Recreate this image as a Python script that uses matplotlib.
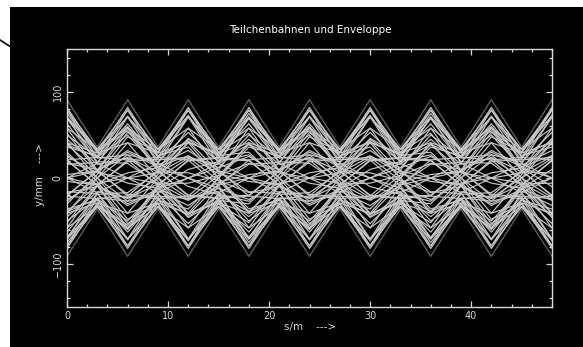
import matplotlib
matplotlib.use('Agg')
import matplotlib.pyplot as plt
from matplotlib.patches import Rectangle
from matplotlib.lines import Line2D
from matplotlib.ticker import MultipleLocator

# --- Data: lens positions along s (m) and particle offsets y (mm) --- #
s_pos = [0, 3, 6, 9, 12, 15, 18, 21, 24, 27, 30, 33, 36, 39, 42, 45, 48]

env_top = [91, 36, 91, 36, 91, 36, 91, 36, 91, 36, 91, 36, 91, 36, 91, 36, 91]
env_bot = [-91, -36, -91, -36, -91, -36, -91, -36, -91, -36, -91, -36, -91, -36, -91, -36, -91]

# --- particles near the edge of the beam --- #
a00 = [82, 29, 41, 0, -41, -29, -82, -29, -41, 0, 41, 29, 82, 29, 41, 0, -41]
a15 = [79, 24, 21, -9, -58, -33, -79, -24, -21, 9, 58, 33, 79, 24, 21, -9, -58]
a30 = [71, 17, 0, -17, -71, -34, -71, -17, 0, 17, 71, 34, 71, 17, 0, -17, -71]
a45 = [58, 9, -21, -24, -79, -33, -58, -9, 21, 24, 79, 33, 58, 9, -21, -24, -79]
a60 = [41, 0, -41, -29, -82, -29, -41, 0, 41, 29, 82, 29, 41, 0, -41, -29, -82]
a75 = [21, -9, -58, -33, -79, -24, -21, 9, 58, 33, 79, 24, 21, -9, -58, -33, -79]
a90 = [0, -17, -71, -34, -71, -17, 0, 17, 71, 34, 71, 17, 0, -17, -71, -34, -71]
a105 = [-21, -24, -79, -33, -58, -9, 21, 24, 79, 33, 58, 9, -21, -24, -79, -33, -58]
a120 = [-41, -29, -82, -29, -41, 0, 41, 29, 82, 29, 41, 0, -41, -29, -82, -29, -41]
a135 = [-58, -33, -79, -24, -21, 9, 58, 33, 79, 24, 21, -9, -58, -33, -79, -24, -21]
a150 = [-71, -34, -71, -17, 0, 17, 71, 34, 71, 17, 0, -17, -71, -34, -71, -17, 0]
a165 = [-79, -33, -58, -9, 21, 24, 79, 33, 58, 9, -21, -24, -79, -33, -58, -9, 21]
a180 = [-82, -29, -41, 0, 41, 29, 82, 29, 41, 0, -41, -29, -82, -29, -41, 0, 41]
a195 = [-79, -24, -21, 9, 58, 33, 79, 24, 21, -9, -58, -33, -79, -24, -21, 9, 58]
a210 = [-71, -17, 0, 17, 71, 34, 71, 17, 0, -17, -71, -34, -71, -17, 0, 17, 71]
a225 = [-58, -9, 21, 24, 79, 33, 58, 9, -21, -24, -79, -33, -58, -9, 21, 24, 79]
a240 = [-41, 0, 41, 29, 82, 29, 41, 0, -41, -29, -82, -29, -41, 0, 41, 29, 82]
a255 = [-21, 9, 58, 33, 79, 24, 21, -9, -58, -33, -79, -24, -21, 9, 58, 33, 79]
a270 = [0, 17, 71, 34, 71, 17, 0, -17, -71, -34, -71, -17, 0, 17, 71, 34, 71]
a285 = [21, 24, 79, 33, 58, 9, -21, -24, -79, -33, -58, -9, 21, 24, 79, 33, 58]
a300 = [41, 29, 82, 29, 41, 0, -41, -29, -82, -29, -41, 0, 41, 29, 82, 29, 41]
a315 = [58, 33, 79, 24, 21, -9, -58, -33, -79, -24, -21, 9, 58, 33, 79, 24, 21]
a330 = [71, 34, 71, 17, 0, -17, -71, -34, -71, -17, 0, 17, 71, 34, 71, 17, 0]
a345 = [79, 33, 58, 9, -21, -24, -79, -33, -58, -9, 21, 24, 79, 33, 58, 9, -21]

# --- particles inside the beam --- #
b00 = [45, 16, 23, 0, -23, -16, -45, -16, -23, 0, 23, 16, 45, 16, 23, 0, -23]
b15 = [63, 19, 17, -7, -46, -26, -63, -19, -17, 7, 46, 26, 63, 19, 17, -7, -46]
b30 = [25, 6, 0, -6, -25, -12, -25, -6, 0, 6, 25, 12, 25, 6, 0, -6, -25]
b45 = [52, 8, -19, -22, -71, -30, -52, -8, 19, 22, 71, 30, 52, 8, -19, -22, -71]
b60 = [27, 0, -27, -19, -53, -19, -27, 0, 27, 19, 53, 19, 27, 0, -27, -19, -53]
b75 = [20, -8, -53, -30, -73, -22, -20, 8, 53, 30, 73, 22, 20, -8, -53, -30, -73]
b90 = [0, -8, -32, -15, -32, -8, 0, 8, 32, 15, 32, 8, 0, -8, -32, -15, -32]
b105 = [-16, -18, -59, -25, -43, -7, 16, 18, 59, 25, 43, 7, -16, -18, -59, -25, -43]
b120 = [-36, -26, -72, -26, -36, 0, 36, 26, 72, 26, 36, 0, -36, -26, -72, -26, -36]
b135 = [-17, -10, -24, -7, -6, 3, 17, 10, 24, 7, 6, -3, -17, -10, -24, -7, -6]
b150 = [-50, -24, -50, -12, 0, 12, 50, 24, 50, 12, 0, -12, -50, -24, -50, -12, 0]
b165 = [-75, -31, -55, -8, 20, 23, 75, 31, 55, 8, -20, -23, -75, -31, -55, -8, 20]
b180 = [-45, -16, -23, 0, 23, 16, 45, 16, 23, 0, -23, -16, -45, -16, -23, 0, 23]
b195 = [-63, -19, -17, 7, 46, 26, 63, 19, 17, -7, -46, -26, -63, -19, -17, 7, 46]
b210 = [-25, -6, 0, 6, 25, 12, 25, 6, 0, -6, -25, -12, -25, -6, 0, 6, 25]
b225 = [-52, -8, 19, 22, 71, 30, 52, 8, -19, -22, -71, -30, -52, -8, 19, 22, 71]
b240 = [-27, 0, 27, 19, 53, 19, 27, 0, -27, -19, -53, -19, -27, 0, 27, 19, 53]
b255 = [-20, 8, 53, 30, 73, 22, 20, -8, -53, -30, -73, -22, -20, 8, 53, 30, 73]
b270 = [0, 8, 32, 15, 32, 8, 0, -8, -32, -15, -32, -8, 0, 8, 32, 15, 32]
b285 = [16, 18, 59, 25, 43, 7, -16, -18, -59, -25, -43, -7, 16, 18, 59, 25, 43]
b300 = [36, 26, 72, 26, 36, 0, -36, -26, -72, -26, -36, 0, 36, 26, 72, 26, 36]
b315 = [17, 10, 24, 7, 6, -3, -17, -10, -24, -7, -6, 3, 17, 10, 24, 7, 6]
b330 = [50, 24, 50, 12, 0, -12, -50, -24, -50, -12, 0, 12, 50, 24, 50, 12, 0]
b345 = [75, 31, 55, 8, -20, -23, -75, -31, -55, -8, 20, 23, 75, 31, 55, 8, -20]

# --- a few more in between --- #
c08 = [69, 23, 27, -4, -42, -27, -69, -23, -27, 4, 42, 27, 69, 23, 27, -4, -42]
c38 = [39, 8, -6, -12, -45, -20, -39, -8, 6, 12, 45, 20, 39, 8, -6, -12, -45]
c68 = [30, -4, -48, -30, -79, -26, -30, 4, 48, 30, 79, 26, 30, -4, -48, -30, -79]
c98 = [-4, -8, -30, -13, -26, -5, 4, 8, 30, 13, 26, 5, -4, -8, -30, -13, -26]
c128 = [-39, -24, -63, -21, -24, 3, 39, 24, 63, 21, 24, -3, -39, -24, -63, -21, -24]
c158 = [-70, -31, -60, -12, 10, 19, 70, 31, 60, 12, -10, -19, -70, -31, -60, -12, 10]
c188 = [-69, -23, -27, 4, 42, 27, 69, 23, 27, -4, -42, -27, -69, -23, -27, 4, 42]
c218 = [-39, -8, 6, 12, 45, 20, 39, 8, -6, -12, -45, -20, -39, -8, 6, 12, 45]
c248 = [-30, 4, 48, 30, 79, 26, 30, -4, -48, -30, -79, -26, -30, 4, 48, 30, 79]
c278 = [4, 8, 30, 13, 26, 5, -4, -8, -30, -13, -26, -5, 4, 8, 30, 13, 26]
c308 = [39, 24, 63, 21, 24, -3, -39, -24, -63, -21, -24, 3, 39, 24, 63, 21, 24]
c338 = [70, 31, 60, 12, -10, -19, -70, -31, -60, -12, 10, 19, 70, 31, 60, 12, -10]

tracks = [a00, a15, a30, a45, a60, a75, a90, a105, a120, a135, a150, a165,
          a180, a195, a210, a225, a240, a255, a270, a285, a300, a315, a330, a345,
          b00, b15, b30, b45, b60, b75, b90, b105, b120, b135, b150, b165,
          b180, b195, b210, b225, b240, b255, b270, b285, b300, b315, b330, b345,
          c08, c38, c68, c98, c128, c158, c188, c218, c248, c278, c308, c338]

fg = '#d8d8d8'

fig = plt.figure(figsize=(5.83, 3.47), dpi=100, facecolor='black')

# white strips at top and left, plus the little stray line
fig.patches.append(Rectangle((0, 1 - 7 / 347), 1, 7 / 347, transform=fig.transFigure,
                             facecolor='white', edgecolor='none'))
fig.patches.append(Rectangle((0, 0), 10 / 583, 1, transform=fig.transFigure,
                             facecolor='white', edgecolor='none'))
fig.lines.append(Line2D([0, 11 / 583], [1 - 40 / 347, 1 - 47 / 347], transform=fig.transFigure,
                        color='black', lw=1.2))

ax = fig.add_axes([67 / 583, 1 - 307 / 347, 485 / 583, 258 / 347])
ax.set_facecolor('black')

for tr in tracks:
    ax.plot(s_pos, tr, color='#c8c8c8', lw=0.85)

ax.plot(s_pos, env_top, color='#5c5c5c', lw=1.0)
ax.plot(s_pos, env_bot, color='#5c5c5c', lw=1.0)

ax.set_xlim(0, 48)
ax.set_ylim(-150, 150)

ax.xaxis.set_major_locator(MultipleLocator(10))
ax.xaxis.set_minor_locator(MultipleLocator(2))
ax.yaxis.set_major_locator(MultipleLocator(100))
ax.yaxis.set_minor_locator(MultipleLocator(20))

for sp in ax.spines.values():
    sp.set_color(fg)
    sp.set_linewidth(1.0)

ax.tick_params(which='both', direction='in', top=True, right=True, colors=fg,
               labelsize=7, pad=3)
ax.tick_params(which='major', length=4, width=0.9)
ax.tick_params(which='minor', length=2.5, width=0.9)
for lab in ax.get_yticklabels():
    lab.set_rotation(90)
    lab.set_va('center')

fig.text(310 / 583, 1 - 30 / 347, 'Teilchenbahnen und Enveloppe', color='white',
         fontsize=7.5, ha='center', va='center')
fig.text(310 / 583, 1 - 327 / 347, 's/m    --->', color=fg,
         fontsize=7.5, ha='center', va='center')
fig.text(40 / 583, 1 - 175 / 347, 'y/mm    --->', color=fg,
         fontsize=7.5, ha='center', va='center', rotation=90)

fig.savefig('out.png', dpi=100, facecolor='black')
